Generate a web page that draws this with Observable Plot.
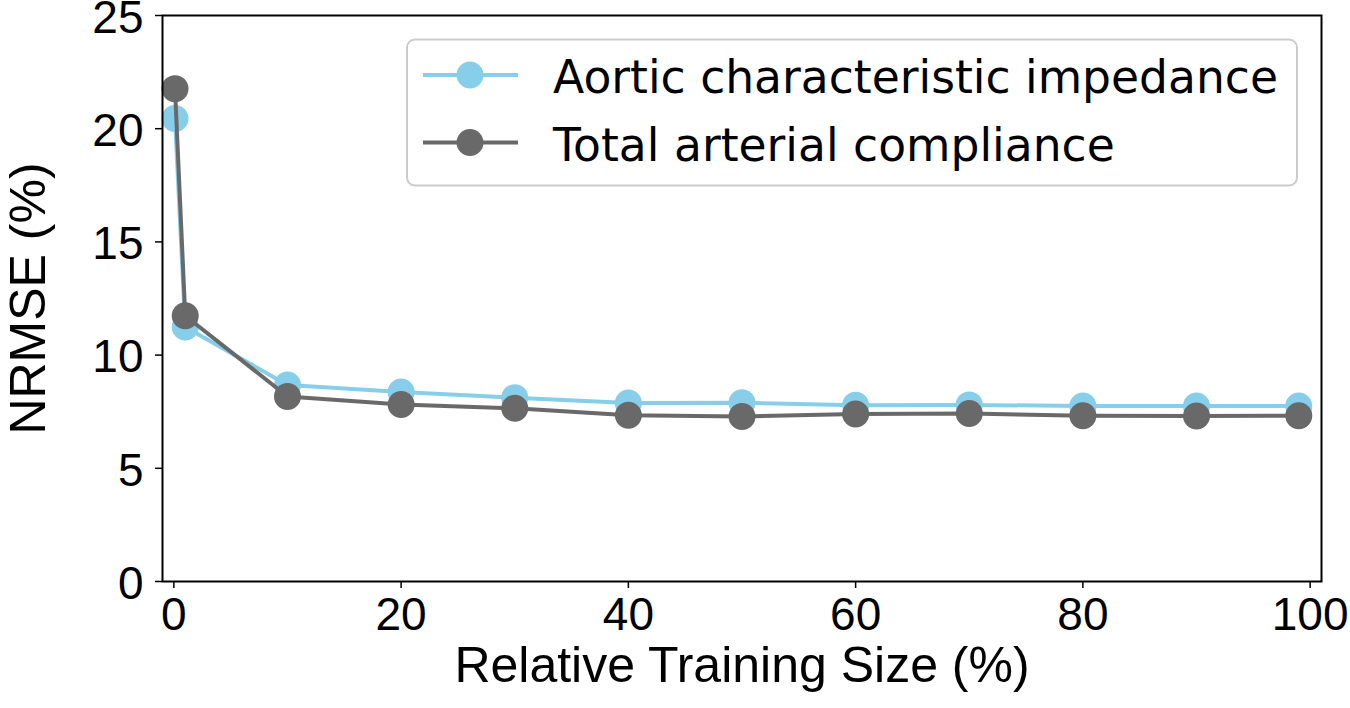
<!DOCTYPE html>
<html>
<head>
<meta charset="utf-8">
<script src="https://cdn.jsdelivr.net/npm/d3@7"></script>
<script src="https://cdn.jsdelivr.net/npm/@observablehq/plot@0.6"></script>
<style>
  html, body { margin: 0; padding: 0; background: #fff; }
  #chart { position: relative; width: 1350px; height: 708px; }
</style>
</head>
<body>
<div id="chart"></div>
<script>
// Data
const trainingSize = [0.1, 1, 10, 20, 30, 40, 50, 60, 70, 80, 90, 99];
const aorticImpedance = [20.45, 11.24, 8.68, 8.37, 8.12, 7.88, 7.89, 7.78, 7.80, 7.75, 7.75, 7.75];
const totalCompliance = [21.77, 11.74, 8.17, 7.82, 7.65, 7.34, 7.29, 7.40, 7.42, 7.32, 7.31, 7.32];
const seriesNames = ["Aortic characteristic impedance", "Total arterial compliance"];
const seriesColors = ["#87CEEB", "#696969"];
const xTicks = [0, 20, 40, 60, 80, 100];
const yTicks = [0, 5, 10, 15, 20, 25];
const xLabel = "Relative Training Size (%)";
const yLabel = "NRMSE (%)";

const rowsA = trainingSize.map((x, i) => ({x, y: aorticImpedance[i]}));
const rowsB = trainingSize.map((x, i) => ({x, y: totalCompliance[i]}));

const plot = Plot.plot({
  width: 1350,
  height: 708,
  marginLeft: 162,
  marginRight: 29,
  marginTop: 15,
  marginBottom: 127,
  style: {fontFamily: "'Liberation Sans', Arial, sans-serif", color: "#000", background: "#fff", overflow: "visible"},
  x: {domain: [-1, 101]},
  y: {domain: [0, 25]},
  marks: [
    Plot.axisX({ticks: xTicks, tickSize: 7, tickPadding: 9, fontSize: 46, label: null, strokeWidth: 1.5}),
    Plot.axisY({ticks: yTicks, tickSize: 7, tickFormat: () => "", label: null, strokeWidth: 1.5}),
    Plot.axisY({ticks: yTicks, tickSize: 0, tickPadding: 19, dy: 2.5, fontSize: 46, label: null}),
    Plot.line(rowsA, {x: "x", y: "y", stroke: seriesColors[0], strokeWidth: 4}),
    Plot.dot(rowsA, {x: "x", y: "y", r: 13.5, fill: seriesColors[0]}),
    Plot.line(rowsB, {x: "x", y: "y", stroke: seriesColors[1], strokeWidth: 4}),
    Plot.dot(rowsB, {x: "x", y: "y", r: 13.5, fill: seriesColors[1]}),
    Plot.frame({stroke: "#000", strokeWidth: 2}),
    Plot.text([xLabel], {frameAnchor: "bottom", dy: 100, fontSize: 50, textAnchor: "middle"}),
    Plot.text([yLabel], {frameAnchor: "left", dx: -134, rotate: -90, fontSize: 50, textAnchor: "middle"})
  ]
});
document.getElementById("chart").appendChild(plot);

// Legend inside the plot, upper right
const svg = d3.select(plot);
const lg = svg.append("g").attr("class", "legend").attr("text-anchor", "start");
lg.append("rect")
  .attr("x", 407).attr("y", 39.5).attr("width", 890).attr("height", 146)
  .attr("rx", 8).attr("ry", 8)
  .attr("fill", "#fff").attr("fill-opacity", 0.8)
  .attr("stroke", "#cccccc").attr("stroke-width", 2);
seriesNames.forEach((name, i) => {
  const cy = 75 + i * 67.5;
  lg.append("line").attr("x1", 423).attr("x2", 518).attr("y1", cy).attr("y2", cy)
    .attr("stroke", seriesColors[i]).attr("stroke-width", 4);
  lg.append("circle").attr("cx", 470).attr("cy", cy).attr("r", 13.5).attr("fill", seriesColors[i]);
  lg.append("text").attr("x", 553).attr("y", cy + 18)
    .attr("text-anchor", "start")
    .attr("font-family", "'DejaVu Sans', sans-serif").attr("font-size", 45.6)
    .attr("fill", "#000").text(name);
});
</script>
</body>
</html>
